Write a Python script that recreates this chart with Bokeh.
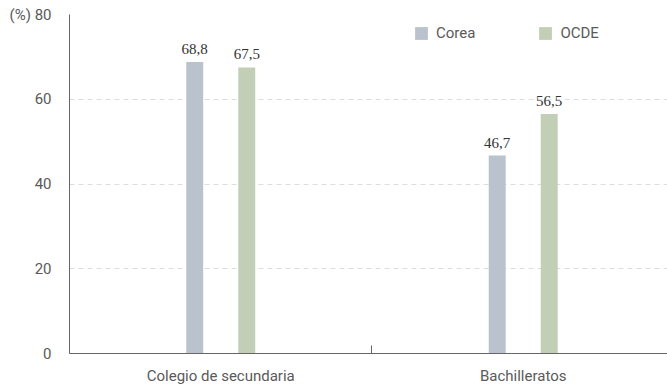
from bokeh.plotting import figure
from bokeh.models import ColumnDataSource, Range1d, FixedTicker, Legend, LegendItem
from bokeh.transform import dodge
from bokeh.core.properties import value
from bokeh.embed import file_html
from bokeh.resources import INLINE

categories = ["Colegio de secundaria", "Bachilleratos"]
corea = [68.8, 46.7]
ocde = [67.5, 56.5]
y_ticks = [0, 20, 40, 60, 80]
y_labels = {0: "0", 20: "20", 40: "40", 60: "60", 80: "(%) 80"}

fmt = lambda v: ("%.1f" % v).replace(".", ",")
xpos = [i + 0.5 for i in range(len(categories))]
src = ColumnDataSource(dict(x=xpos, corea=corea, ocde=ocde,
                            corea_t=[fmt(v) for v in corea],
                            ocde_t=[fmt(v) for v in ocde]))

FONT = "Roboto"
LBL = "#5a5a5a"
C_KOR = "#b9c2cd"
C_OECD = "#c2cfb6"

p = figure(width=667, height=388, output_backend="svg", toolbar_location=None,
           x_range=Range1d(0, 1.977), y_range=Range1d(0, 80),
           min_border_left=69, min_border_right=0, min_border_top=14, min_border_bottom=35)
p.outline_line_color = None
p.background_fill_color = "white"
p.border_fill_color = "white"

off, w = 0.086, 0.056
r1 = p.vbar(x=dodge("x", -off), top="corea", width=w, source=src, color=C_KOR, line_color=None)
r2 = p.vbar(x=dodge("x", off), top="ocde", width=w, source=src, color=C_OECD, line_color=None)

for col, txt, d in (("corea", "corea_t", -off), ("ocde", "ocde_t", off)):
    p.text(x=dodge("x", d), y=col, text=txt, source=src, y_offset=-8,
           text_align="center", text_baseline="bottom",
           text_font=value("Liberation Serif"), text_font_size="15px", text_color="#333333")

# x axis
xa = p.xaxis[0]
xa.ticker = FixedTicker(ticks=xpos, minor_ticks=list(range(1, len(categories))))
xa.major_label_overrides = {x: c for x, c in zip(xpos, categories)}
xa.major_tick_line_color = None
xa.minor_tick_in = 8
xa.minor_tick_out = 0
xa.minor_tick_line_color = "#666666"
xa.axis_line_color = "#666666"
xa.major_label_text_font = FONT
xa.major_label_text_font_size = "15px"
xa.major_label_text_color = LBL
xa.major_label_standoff = 7

ya = p.yaxis[0]
ya.ticker = FixedTicker(ticks=y_ticks)
ya.major_label_overrides = y_labels
ya.major_tick_line_color = None
ya.minor_tick_line_color = None
ya.axis_line_color = "#666666"
ya.major_label_text_font = FONT
ya.major_label_text_font_size = "15px"
ya.major_label_text_color = LBL
ya.major_label_standoff = 12

p.xgrid.grid_line_color = None
p.ygrid.grid_line_color = "#dddddd"
p.ygrid.grid_line_dash = "5 4"

legend = Legend(items=[LegendItem(label="Corea", renderers=[r1]),
                       LegendItem(label="OCDE", renderers=[r2])],
                orientation="horizontal", location=(344, 311),
                glyph_width=16, glyph_height=16, label_height=16, label_standoff=7,
                spacing=62, padding=0, margin=0,
                border_line_color=None, background_fill_alpha=0,
                label_text_font=FONT, label_text_font_size="15px", label_text_color=LBL)
p.add_layout(legend)

open("out.html", "w").write(file_html(p, INLINE))
